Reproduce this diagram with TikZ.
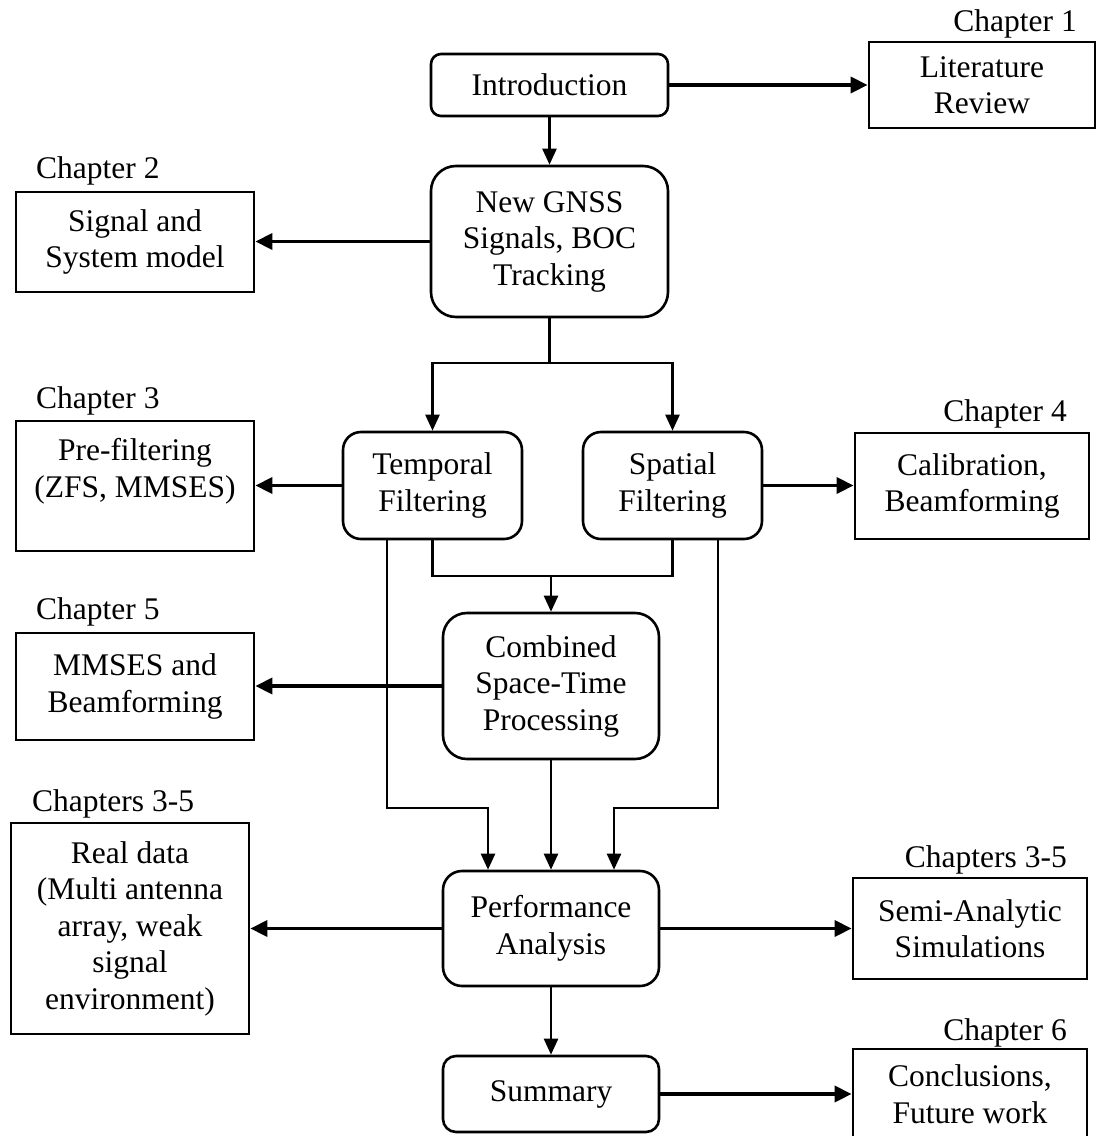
\documentclass[tikz,border=0pt]{standalone}
\usepackage{fontspec}
\setmainfont{Liberation Serif}
\usetikzlibrary{arrows.meta}

\tikzset{
  txt/.style={font=\fontsize{31.5}{36.5}\selectfont, align=center, inner sep=0pt},
  roundbox/.style={txt, draw, line width=2.6pt, rectangle},
  chapbox/.style={txt, draw, line width=2.8pt, rectangle},
  chaplabel/.style={font=\fontsize{31.5}{36.5}\selectfont, inner sep=0pt},
  thinarrow/.style={line width=2.4pt, -{Triangle[length=16pt,width=14pt]}},
  thickarrow/.style={line width=3.6pt, -{Triangle[length=17pt,width=16pt]}},
  plainline/.style={line width=2.4pt}
}

\begin{document}
\begin{tikzpicture}[x=1pt,y=-1pt]
\useasboundingbox (0,0) rectangle (1096,1136);

% main flow (rounded boxes)
\node[roundbox, rounded corners=10pt, minimum width=237pt, minimum height=62pt] (intro) at (549.5,85) {Introduction};
\node[roundbox, rounded corners=25pt, minimum width=237pt, minimum height=151pt] (gnss) at (549.5,241.5) {New GNSS\\Signals, BOC\\Tracking};
\node[roundbox, rounded corners=18pt, minimum width=179pt, minimum height=107pt] (temp) at (432.5,485.5) {Temporal\\Filtering};
\node[roundbox, rounded corners=18pt, minimum width=179pt, minimum height=107pt] (spat) at (672.5,485.5) {Spatial\\Filtering};
\node[roundbox, rounded corners=24pt, minimum width=216pt, minimum height=146pt] (comb) at (551,686) {Combined\\Space-Time\\Processing};
\node[roundbox, rounded corners=19pt, minimum width=216pt, minimum height=115pt] (perf) at (551,928.5) {Performance\\Analysis};
\node[roundbox, rounded corners=13pt, minimum width=216pt, minimum height=76pt] (summ) at (551,1094) {Summary};

% chapter boxes
\node[chapbox, minimum width=226pt, minimum height=86pt] (lit) at (982,85) {Literature\\Review};
\node[chapbox, minimum width=238pt, minimum height=100pt] (sig) at (135,242) {Signal and\\System model};
\node[chapbox, minimum width=238pt, minimum height=130pt] (pre) at (135,486) {Pre-filtering\\(ZFS, MMSES)\\\mbox{}};
\node[chapbox, minimum width=234pt, minimum height=106pt] (cal) at (972,486) {Calibration,\\Beamforming};
\node[chapbox, minimum width=238pt, minimum height=107pt] (mmse) at (135,686.5) {MMSES and\\Beamforming};
\node[chapbox, minimum width=238pt, minimum height=211pt] (real) at (130,928.5) {Real data\\(Multi antenna\\array, weak\\signal\\environment)};
\node[chapbox, minimum width=234pt, minimum height=101pt] (semi) at (970,928.5) {Semi-Analytic\\Simulations};
\node[chapbox, minimum width=234pt, minimum height=90pt] (concl) at (970,1094) {Conclusions,\\Future work};

% chapter labels
\node[chaplabel, anchor=base east] (c1) at (1077,31) {Chapter 1};
\node[chaplabel, anchor=base west] (c2) at (36,178) {Chapter 2};
\node[chaplabel, anchor=base west] (c3) at (36,408) {Chapter 3};
\node[chaplabel, anchor=base east] (c4) at (1067,421) {Chapter 4};
\node[chaplabel, anchor=base west] (c5) at (36,619) {Chapter 5};
\node[chaplabel, anchor=base west] (c35a) at (32,811) {Chapters 3-5};
\node[chaplabel, anchor=base east] (c35b) at (1067,867) {Chapters 3-5};
\node[chaplabel, anchor=base east] (c6) at (1067,1040) {Chapter 6};

% junction points
\coordinate (split) at (549.5,363);
\coordinate (join) at (551,576);
\coordinate (lt) at (387,539);
\coordinate (rt) at (718,539);

% side arrows
\draw[thickarrow] (intro.east) -- (lit.west |- intro.east);
\draw[thickarrow] (gnss.west) -- (sig.east |- gnss.west);
\draw[thickarrow] (temp.west) -- (pre.east |- temp.west);
\draw[thickarrow] (spat.east) -- (cal.west |- spat.east);
\draw[thickarrow] (comb.west) -- (mmse.east |- comb.west);
\draw[thickarrow] (perf.west) -- (real.east |- perf.west);
\draw[thickarrow] (perf.east) -- (semi.west |- perf.east);
\draw[thickarrow] (summ.east) -- (concl.west |- summ.east);

% main vertical flow
\draw[thinarrow] (intro.south) -- (gnss.north);
\draw[plainline] (gnss.south) -- (split);
\draw[thinarrow] (temp.north |- split) -- (temp.north);
\draw[thinarrow] (spat.north |- split) -- (spat.north);
\draw[plainline, line cap=rect] (temp.north |- split) -- (spat.north |- split);

\draw[plainline, line join=miter] (temp.south) -- (temp.south |- join) -- (spat.south |- join) -- (spat.south);
\draw[thinarrow] (join) -- (comb.north);

\draw[thinarrow] (lt) -- (387,808) -- (488,808) -- (perf.north -| 488,0);
\draw[thinarrow] (comb.south) -- (perf.north);
\draw[thinarrow] (rt) -- (718,808) -- (614,808) -- (perf.north -| 614,0);
\draw[thinarrow] (perf.south) -- (summ.north);
\end{tikzpicture}
\end{document}
